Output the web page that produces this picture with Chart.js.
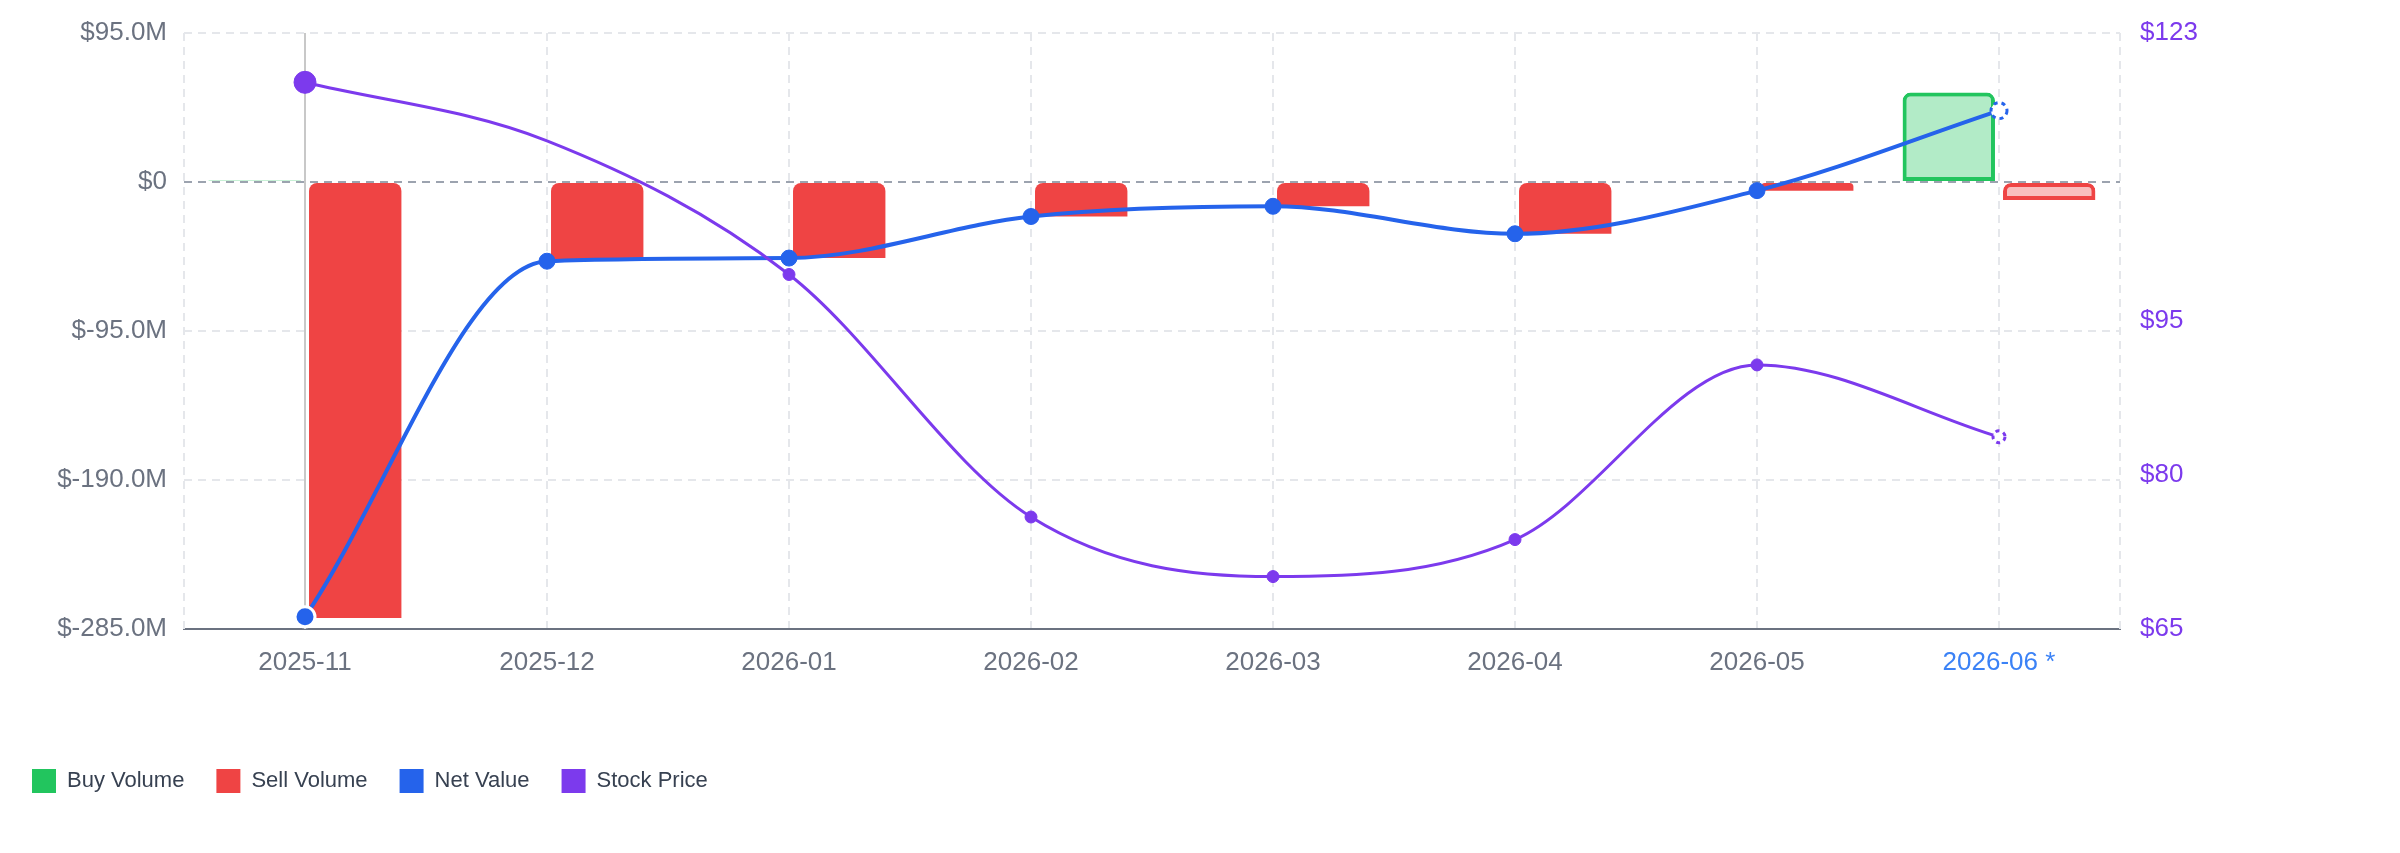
<!DOCTYPE html>
<html lang="en">
<head>
    <meta charset="UTF-8">
    <title>Buy / Sell Volume vs Stock Price</title>
    <script src="https://cdn.jsdelivr.net/npm/chart.js"></script>
    <style>
        body {
            margin: 0;
            background: #ffffff;
        }
        #chartWrap {
            width: 2400px;
            height: 853px;
        }
    </style>
</head>
<body>
    <div id="chartWrap">
        <canvas id="flowChart"></canvas>
    </div>

    <script>
        const months = ['2025-11', '2025-12', '2026-01', '2026-02', '2026-03', '2026-04', '2026-05', '2026-06 *'];

        // values in $M
        const buyVolume = [0.8, 0, 0, 0, 0, 0, 0, 57];
        const sellVolume = [-278, -49.5, -48.5, -22, -15.5, -33, -5.5, -11.5];
        const netValue = [-277.2, -50.5, -48.5, -22, -15.5, -33, -5.5, 45.5];
        // stock price in $
        const stockPrice = [118.2, 112.5, 99.5, 75.9, 70.1, 73.7, 90.7, 83.7];

        const leftTicks = [-285, -190, -95, 0, 95];
        const rightTicks = [65, 80, 95, 123];

        const lastIdx = months.length - 1;
        const gridGray = '#e5e7eb';

        // crosshair on first month, dashed chart edges, dashed forecast points
        const decorPlugin = {
            id: 'decor',
            beforeDatasetsDraw(chart) {
                const { ctx, chartArea, scales } = chart;
                ctx.save();
                ctx.lineWidth = 2;
                ctx.strokeStyle = gridGray;
                ctx.setLineDash([8, 6]);
                [chartArea.left, chartArea.right].forEach(x => {
                    ctx.beginPath();
                    ctx.moveTo(x, chartArea.top);
                    ctx.lineTo(x, chartArea.bottom);
                    ctx.stroke();
                });
                ctx.setLineDash([]);
                const hx = scales.x.getPixelForValue(0);
                ctx.strokeStyle = '#c8c8c8';
                ctx.beginPath();
                ctx.moveTo(hx, chartArea.top);
                ctx.lineTo(hx, chartArea.bottom);
                ctx.stroke();
                ctx.restore();
            },
            afterDatasetsDraw(chart) {
                const { ctx } = chart;
                chart.data.datasets.forEach((ds, i) => {
                    if (ds.type !== 'line') return;
                    const pt = chart.getDatasetMeta(i).data[lastIdx];
                    if (!pt) return;
                    ctx.save();
                    ctx.setLineDash([4, 4]);
                    ctx.lineWidth = 3;
                    ctx.strokeStyle = ds.borderColor;
                    ctx.beginPath();
                    ctx.arc(pt.x, pt.y, ds.forecastRadius, 0, Math.PI * 2);
                    ctx.stroke();
                    ctx.restore();
                });
            }
        };

        const ctx = document.getElementById('flowChart').getContext('2d');

        const grafico = new Chart(ctx, {
            type: 'bar',
            data: {
                labels: months,
                datasets: [
                    {
                        label: 'Buy Volume',
                        data: buyVolume,
                        yAxisID: 'y',
                        order: 2,
                        backgroundColor: c => c.dataIndex === lastIdx ? 'rgba(34, 197, 94, 0.35)' : '#22c55e',
                        borderColor: '#22c55e',
                        borderWidth: c => c.dataIndex === lastIdx ? 4 : 0,
                        borderSkipped: false,
                        borderRadius: { topLeft: 8, topRight: 8, bottomLeft: 0, bottomRight: 0 },
                        categoryPercentage: 0.83,
                        barPercentage: 0.92
                    },
                    {
                        label: 'Sell Volume',
                        data: sellVolume,
                        yAxisID: 'y',
                        order: 3,
                        backgroundColor: c => c.dataIndex === lastIdx ? 'rgba(239, 68, 68, 0.35)' : '#ef4444',
                        borderColor: '#ef4444',
                        borderWidth: c => c.dataIndex === lastIdx ? 4 : 0,
                        borderSkipped: false,
                        borderRadius: { topLeft: 8, topRight: 8, bottomLeft: 0, bottomRight: 0 },
                        categoryPercentage: 0.83,
                        barPercentage: 0.92
                    },
                    {
                        type: 'line',
                        label: 'Net Value',
                        data: netValue,
                        yAxisID: 'y',
                        order: 1,
                        borderColor: '#2563eb',
                        backgroundColor: '#2563eb',
                        borderWidth: 4,
                        cubicInterpolationMode: 'monotone',
                        pointRadius: c => c.dataIndex === 0 ? 10 : 8,
                        pointBackgroundColor: c => c.dataIndex === lastIdx ? '#ffffff' : '#2563eb',
                        pointBorderColor: c => c.dataIndex === 0 ? '#ffffff' : '#2563eb',
                        pointBorderWidth: c => c.dataIndex === 0 ? 3 : (c.dataIndex === lastIdx ? 0 : 1),
                        forecastRadius: 8
                    },
                    {
                        type: 'line',
                        label: 'Stock Price',
                        data: stockPrice,
                        yAxisID: 'y1',
                        order: 0,
                        borderColor: '#7c3aed',
                        backgroundColor: '#7c3aed',
                        borderWidth: 3,
                        cubicInterpolationMode: 'monotone',
                        pointRadius: c => c.dataIndex === 0 ? 11 : (c.dataIndex === 1 ? 0 : 6),
                        pointBackgroundColor: c => c.dataIndex === lastIdx ? '#ffffff' : '#7c3aed',
                        pointBorderColor: '#7c3aed',
                        pointBorderWidth: c => c.dataIndex === lastIdx ? 0 : 1,
                        forecastRadius: 6
                    }
                ]
            },
            options: {
                responsive: true,
                maintainAspectRatio: false,
                animation: false,
                layout: {
                    padding: { top: 20, bottom: 50, left: 0, right: 0 }
                },
                scales: {
                    x: {
                        afterFit: s => { s.height = 108; },
                        grid: {
                            offset: false,
                            drawTicks: false,
                            color: gridGray,
                            lineWidth: 2
                        },
                        border: { display: true, color: '#6b7280', width: 2, dash: [8, 6] },
                        ticks: {
                            padding: 18,
                            font: { family: 'Liberation Sans', size: 26 },
                            color: c => c.index === lastIdx ? '#3b82f6' : '#6b7280'
                        }
                    },
                    y: {
                        position: 'left',
                        min: -285,
                        max: 95,
                        afterFit: s => { s.width = 184; },
                        afterBuildTicks: s => { s.ticks = leftTicks.map(v => ({ value: v })); },
                        grid: {
                            drawTicks: false,
                            color: c => c.tick && c.tick.value === 0 ? '#9ca3af' : gridGray,
                            lineWidth: 2
                        },
                        border: { display: false, dash: [8, 6] },
                        ticks: {
                            padding: 17,
                            font: { family: 'Liberation Sans', size: 26, lineHeight: 1 },
                            color: '#6b7280',
                            callback: v => v === 0 ? '$0' : '$' + v.toFixed(1) + 'M'
                        }
                    },
                    y1: {
                        position: 'right',
                        min: 65,
                        max: 123,
                        afterFit: s => { s.width = 280; },
                        afterBuildTicks: s => { s.ticks = rightTicks.map(v => ({ value: v })); },
                        grid: { drawOnChartArea: false, drawTicks: false },
                        border: { display: false },
                        ticks: {
                            padding: 20,
                            font: { family: 'Liberation Sans', size: 26, lineHeight: 1 },
                            color: '#7c3aed',
                            callback: v => '$' + v
                        }
                    }
                },
                plugins: {
                    legend: {
                        position: 'bottom',
                        align: 'start',
                        labels: {
                            boxWidth: 24,
                            boxHeight: 24,
                            padding: 32,
                            color: '#374151',
                            font: { family: 'Liberation Sans', size: 22 },
                            sort: (a, b) => a.datasetIndex - b.datasetIndex,
                            generateLabels: chart => Chart.defaults.plugins.legend.labels.generateLabels(chart)
                                .map(item => Object.assign(item, { lineWidth: 0 }))
                        }
                    },
                    tooltip: { enabled: false }
                }
            },
            plugins: [decorPlugin]
        });
    </script>
</body>
</html>
